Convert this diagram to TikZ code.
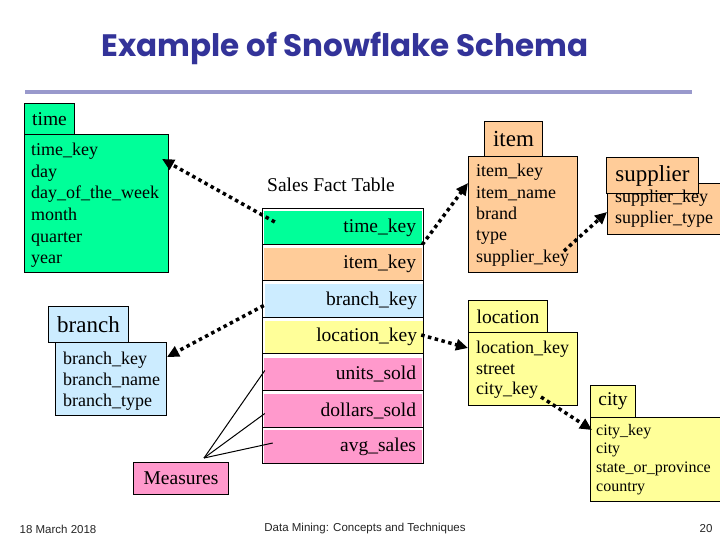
\documentclass[tikz,border=0pt]{standalone}
\usepackage{fontspec}
\setmainfont{Liberation Serif}
\newfontfamily\footfont{Liberation Sans}
\newfontfamily\titlefont{Poppins}
\usetikzlibrary{arrows.meta,calc}
\definecolor{tgreen}{RGB}{0,255,153}
\definecolor{tpeach}{RGB}{255,204,153}
\definecolor{tblue}{RGB}{204,236,255}
\definecolor{tyellow}{RGB}{255,255,153}
\definecolor{tpink}{RGB}{255,153,204}
\definecolor{titleblue}{RGB}{51,51,153}
\definecolor{rulecol}{RGB}{153,153,204}
\tikzset{
  box/.style={draw=black, line width=1pt, anchor=north west, inner sep=0pt},
  hdr/.style={box, font=\fontsize{19.5}{22}\selectfont},
  bighdr/.style={box, font=\fontsize{23}{26}\selectfont},
  fld/.style={anchor=base west, inner sep=0pt, font=\fontsize{18}{21}\selectfont},
  sfld/.style={anchor=base west, inner sep=0pt, font=\fontsize{16}{19}\selectfont},
  row/.style={minimum width=158pt, minimum height=33pt, text width=146pt, align=right,
    inner xsep=6pt, inner ysep=0pt, font=\fontsize{19.5}{22}\selectfont},
  link/.style={line width=3.5pt, dash pattern=on 3.5pt off 3.5pt, -{Triangle[length=12pt,width=11pt]}},
  mline/.style={line width=1pt, black},
  foot/.style={font=\footfont\fontsize{11.5}{13}\selectfont, text=black!85}
}
\begin{document}
\begin{tikzpicture}[x=1pt,y=-1pt]
\useasboundingbox (0,0) rectangle (720,540);
\fill[white] (0,0) rectangle (720,540);

% title
\node[font=\titlefont\bfseries\fontsize{31}{35}\selectfont, text=titleblue] (title) at (345,48) {Example of Snowflake Schema};
\draw[rulecol, line width=4pt] (25,92) -- (692,92);

% time
\node[box, fill=tgreen, minimum width=144pt, minimum height=138pt] (time-body) at (24,134) {};
\node[hdr, fill=tgreen, minimum width=50pt, minimum height=31pt] (time-hdr) at (24,103) {time};
\node[fld] (t1) at (31,156) {time\_key};
\node[fld] (t2) at (31,177.5) {day};
\node[fld] (t3) at (31,199) {day\_of\_the\_week};
\node[fld] (t4) at (31,220.5) {month};
\node[fld] (t5) at (31,242) {quarter};
\node[fld] (t6) at (31,263.5) {year};

% item
\node[box, fill=tpeach, minimum width=109pt, minimum height=116pt] (item-body) at (468,156) {};
\node[bighdr, fill=tpeach, minimum width=58pt, minimum height=35pt] (item-hdr) at (484,121) {item};
\node[fld] (i1) at (476,177) {item\_key};
\node[fld] (i2) at (476,198.25) {item\_name};
\node[fld] (i3) at (476,219.5) {brand};
\node[fld] (i4) at (476,240.75) {type};
\node[fld] (i5) at (476,262) {supplier\_key};

% supplier
\node[box, fill=tpeach, minimum width=113pt, minimum height=51pt] (sup-body) at (607,183) {};
\node[bighdr, fill=tpeach, minimum width=92pt, minimum height=36pt] (sup-hdr) at (606,157) {supplier};
\node[fld] (s1) at (615,203) {supplier\_key};
\node[fld] (s2) at (615,224) {supplier\_type};

% location
\node[box, fill=tyellow, minimum width=109pt, minimum height=73pt] (loc-body) at (468,332) {};
\node[hdr, fill=tyellow, minimum width=79pt, minimum height=32pt] (loc-hdr) at (468,300) {location};
\node[fld] (l1) at (476,353) {location\_key};
\node[fld] (l2) at (476,374) {street};
\node[fld] (l3) at (476,394.5) {city\_key};

% city
\node[box, fill=tyellow, minimum width=130pt, minimum height=84pt] (city-body) at (590,417) {};
\node[hdr, fill=tyellow, minimum width=45pt, minimum height=32pt] (city-hdr) at (590,385) {city};
\node[sfld] (c1) at (596,435) {city\_key};
\node[sfld] (c2) at (596,453.7) {city};
\node[sfld] (c3) at (596,472.4) {state\_or\_province};
\node[sfld] (c4) at (596,491.1) {country};

% branch
\node[box, fill=tblue, minimum width=111pt, minimum height=73pt] (branch-body) at (55,342) {};
\node[bighdr, fill=tblue, minimum width=80pt, minimum height=36pt] (branch-hdr) at (48,306) {branch};
\node[fld] (b1) at (63,364) {branch\_key};
\node[fld] (b2) at (63,385) {branch\_name};
\node[fld] (b3) at (63,406) {branch\_type};

% fact table
\node[font=\fontsize{19.5}{22}\selectfont] (fact-title) at (331,185) {Sales Fact Table};
\node[draw, line width=1pt, fill=white, anchor=north west, minimum width=161pt, minimum height=255pt, inner sep=0pt] (fact) at (262,208) {};
\node[row, fill=tgreen] (fk-time) at (343,228) {time\_key};
\node[row, fill=tpeach] (fk-item) at (343,264) {item\_key};
\node[row, fill=tblue] (fk-branch) at (344,300.5) {branch\_key};
\node[row, fill=tyellow] (fk-loc) at (344,337) {location\_key};
\node[row, fill=tpink] (fk-units) at (343,374) {units\_sold};
\node[row, fill=tpink] (fk-dollars) at (343,410.5) {dollars\_sold};
\node[row, fill=tpink] (fk-avg) at (343,446.5) {avg\_sales};
\foreach \r in {fk-time,fk-item,fk-branch,fk-loc,fk-units,fk-dollars,fk-avg}
  \draw[line width=1.3pt] (fact.west |- \r.south) -- (fact.east |- \r.south);
\draw[line width=1pt] (fact.north west) -- (fact.south west);

% measures
\node[box, fill=tpink, minimum width=95pt, minimum height=32pt, font=\fontsize{19.5}{22}\selectfont] (meas) at (133,462) {Measures};
\coordinate (mtop) at ($(meas.north)+(23,-4)$);
\draw[mline] (mtop) -- ($(fk-units.west)+(1,-3.5)$);
\draw[mline] (mtop) -- ($(fk-dollars.west)+(1,3)$);
\draw[mline] (mtop) -- ($(fk-avg.west)+(9,-3.5)$);

% links
\draw[link] ($(fk-time.west)+(11,-6)$) -- ($(time-body.north east)+(-7,25)$);
\draw[link] (fk-time.south east) -- ($(item-body.north west)+(0,27)$);
\draw[link] ($(fk-branch.west)+(-1,5)$) -- ($(branch-body.north east)+(0,15)$);
\draw[link] ($(fk-loc.east)+(-2,-2)$) -- ($(loc-body.north west)+(0,16)$);
\draw[link] ($(item-body.south east)+(-14,-22)$) -- ($(sup-body.north west)+(0,29)$);
\draw[link] ($(loc-body.south east)+(-37,-9)$) -- ($(city-body.north west)+(2,13)$);

% footer
\node[foot] (f1) at (58,529) {18 March 2018};
\node[foot] (f2) at (365,529) {Data Mining: Concepts and Techniques};
\node[foot] (f3) at (706,529) {20};
\end{tikzpicture}
\end{document}
